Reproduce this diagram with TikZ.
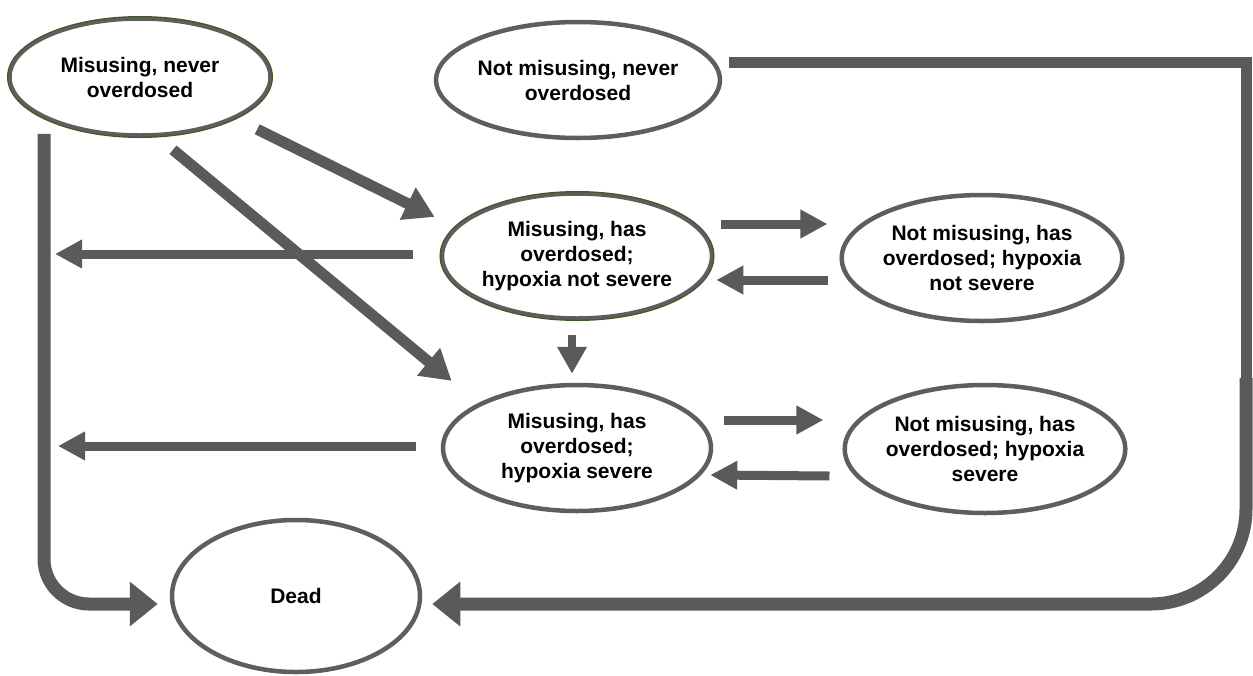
\documentclass[tikz,border=0pt]{standalone}
\usepackage{fontspec}
\setmainfont{Liberation Sans}
\usetikzlibrary{shapes.geometric,arrows.meta,calc}
\definecolor{lg}{HTML}{5A5A5A}
\definecolor{eg}{HTML}{5E5E5E}
\definecolor{gg}{HTML}{3E5A22}
\tikzset{
  st/.style={ellipse, draw=eg, line width=4.5pt, inner sep=0pt, align=center,
    font=\fontsize{21pt}{25pt}\selectfont\bfseries, fill=white},
  gst/.style={st, draw=eg, line width=3.5pt, preaction={draw=gg, line width=6pt}},
  hz/.style={draw=lg, line width=9pt, -{Triangle[width=27pt,length=27pt]}},
  dg/.style={draw=lg, line width=11pt, -{Triangle[width=34pt,length=30pt]}},
  dn/.style={draw=lg, line width=8pt, -{Triangle[width=28pt,length=27pt]}},
  bg/.style={draw=lg, line width=13pt, -{Triangle[width=43pt,length=28pt]}},
  ln/.style={draw=lg, line width=11pt},
  br/.style={draw=lg, line width=10pt},
}
\begin{document}
\begin{tikzpicture}[x=1pt,y=-1pt]
\useasboundingbox (0,0) rectangle (1253,675);
\node[gst, minimum width=260pt, minimum height=116pt] (m0) at (140,77) {Misusing, never\\overdosed};
\node[st, minimum width=270pt, minimum height=116pt] (n0) at (578,80) {Not misusing, never\\overdosed};
\node[gst, minimum width=268pt, minimum height=124pt] (m2) at (577,256) {Misusing, has\\overdosed;\\hypoxia not severe};
\node[st, minimum width=266pt, minimum height=126pt] (n2) at (982,258) {Not misusing, has\\overdosed; hypoxia\\not severe};
\node[st, minimum width=268pt, minimum height=126pt] (m3) at (577,448) {Misusing, has\\overdosed;\\hypoxia severe};
\node[st, minimum width=268pt, minimum height=128pt] (n3) at (985,449) {Not misusing, has\\overdosed; hypoxia\\severe};
\node[st, minimum width=248pt, minimum height=152pt] (dead) at (296,596) {Dead};

\coordinate (L2) at (55,254);
\coordinate (L3) at (58,446);
\coordinate (RV) at (1246,380);

% misusing, never overdosed
\draw[dg] ($(m0.south east)+(24,10)$) -- ($(m2.north west)+(-46,6)$);
\draw[dg] ($(m0.south)+(33,13)$) -- ($(m3.north west)+(-29,-21)$);
\draw[bg, rounded corners=45pt] ($(m0.south)+(-96,-3)$) |- ($(dead.west)+(-12,8)$);

% left exits
\draw[hz] ($(m2.west)+(-28,-2)$) -- (L2);
\draw[hz] ($(m3.west)+(-25,-2)$) -- (L3);

% down
\draw[dn] ($(m2.south)+(-5,15)$) -- ($(m3.north)+(-5,-9)$);

% between columns
\draw[hz] ($(m2.east)+(8,-32)$) -- ($(n2.west)+(-12,-34)$);
\draw[hz] ($(n2.west)+(-11,22)$) -- ($(m2.east)+(3,24)$);
\draw[hz] ($(m3.east)+(11,-28)$) -- ($(n3.west)+(-19,-29)$);
\draw[hz] ($(n3.west)+(-13,27)$) -- ($(m3.east)+(-3,27)$);

% right-hand collector to Dead
\draw[ln] ($(n0.east)+(7,-18)$) -| (RV);
\draw[br] ($(n2.east)+(5,-1)$) -- ($(n2.east)+(5,-1)$ -| RV);
\draw[br] ($(n3.east)+(6,-6)$) -- ($(n3.east)+(6,-6)$ -| RV);
\draw[bg, rounded corners=95pt] ($(RV)+(0,-2)$) |- ($(dead.east)+(10,8)$);
\end{tikzpicture}
\end{document}
